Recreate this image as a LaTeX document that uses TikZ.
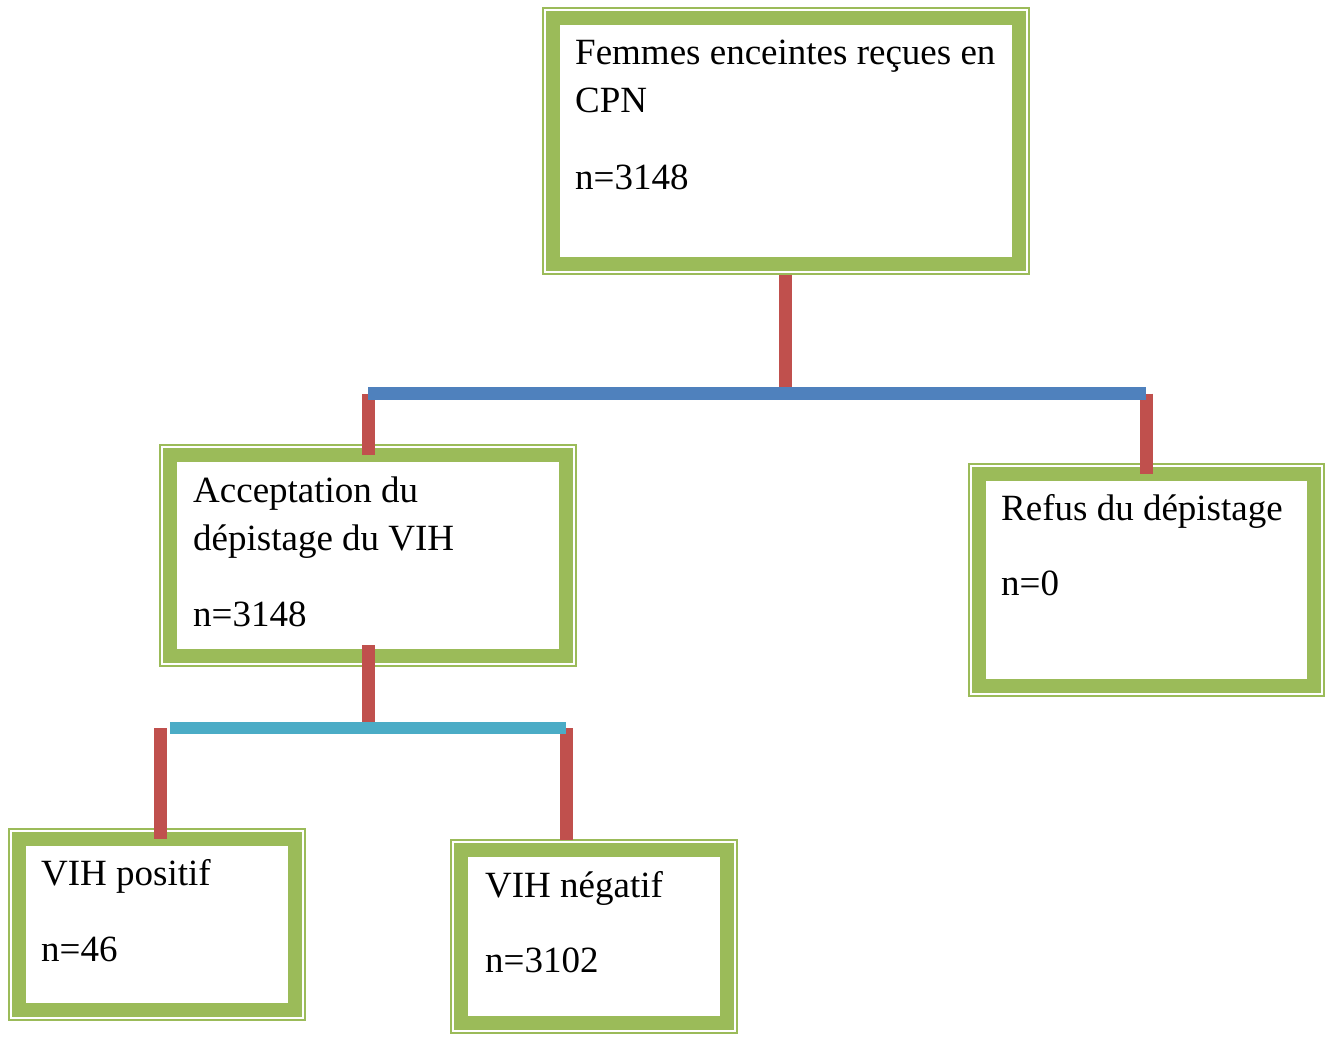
\documentclass[tikz,border=0pt]{standalone}
\usepackage{fontspec}
\setmainfont{Liberation Serif}
\usetikzlibrary{calc}
\definecolor{vgreen}{HTML}{9BBB59}
\definecolor{vred}{HTML}{C0504D}
\definecolor{vblue}{HTML}{4F81BD}
\definecolor{vcyan}{HTML}{4BACC6}
\tikzset{
  box/.style={draw=vgreen, line width=14pt, inner sep=0pt, outer sep=0pt, anchor=north west},
  frame/.style={draw=vgreen, line width=2pt},
  redl/.style={draw=vred, line width=13pt},
  bluel/.style={draw=vblue, line width=13pt},
  cyanl/.style={draw=vcyan, line width=12pt},
  txt/.style={anchor=base west, inner sep=0pt, font=\fontsize{37}{48}\selectfont}
}
\begin{document}
\begin{tikzpicture}[x=1pt,y=1pt]
\useasboundingbox (0,0) rectangle (1327,-1038);
% boxes
\node[box, minimum width=466pt, minimum height=245.5pt] (b1) at (553,-18.5) {};
\node[box, minimum width=396pt, minimum height=201pt] (b2) at (170,-455) {};
\node[box, minimum width=335pt, minimum height=212pt] (b3) at (979,-474) {};
\node[box, minimum width=276pt, minimum height=170.5pt] (b4) at (19,-839) {};
\node[box, minimum width=266pt, minimum height=173pt] (b5) at (461,-850) {};
\foreach \b in {b1,b2,b3,b4,b5}
  \draw[frame] ([shift={(-10pt,10pt)}]\b.north west) rectangle ([shift={(10pt,-10pt)}]\b.south east);
% texts
\node[txt] (t1a) at (575,-65) {Femmes enceintes reçues en};
\node[txt] (t1b) at (575,-113) {CPN};
\node[txt] (t1c) at (575,-189) {n=3148};
\node[txt] (t2a) at (193,-502) {Acceptation du};
\node[txt] (t2b) at (193,-550) {dépistage du VIH};
\node[txt] (t2c) at (193,-626) {n=3148};
\node[txt] (t3a) at (1001,-520) {Refus du dépistage};
\node[txt] (t3b) at (1001,-595) {n=0};
\node[txt] (t4a) at (41,-885) {VIH positif};
\node[txt] (t4b) at (41,-961) {n=46};
\node[txt] (t5a) at (485,-897) {VIH négatif};
\node[txt] (t5b) at (485,-972) {n=3102};
% connectors
\coordinate (j1) at (785,-393.5);
\coordinate (jl) at (368,-393.5);
\coordinate (jr) at (1146,-393.5);
\draw[redl] ($(b1.south)+(-1,-11)$) -- (j1);
\draw[redl] (jl) -- (jl |- b2.north);
\draw[redl] (jr) -- (jr |- b3.north);
\draw[bluel] (jl) -- (jr);
\coordinate (jc) at (368,-727.5);
\coordinate (cl) at (170,-727.5);
\coordinate (cr) at (566,-727.5);
\coordinate (p1) at (160,-728);
\coordinate (p2) at (566,-728);
\draw[redl] ($(b2.south)+(0,11)$) -- (jc);
\draw[redl] (p1) -- (p1 |- b4.north);
\draw[redl] (p2) -- ($(p2 |- b5.north)+(0,10)$);
\draw[cyanl] (cl) -- (cr);
\end{tikzpicture}
\end{document}
